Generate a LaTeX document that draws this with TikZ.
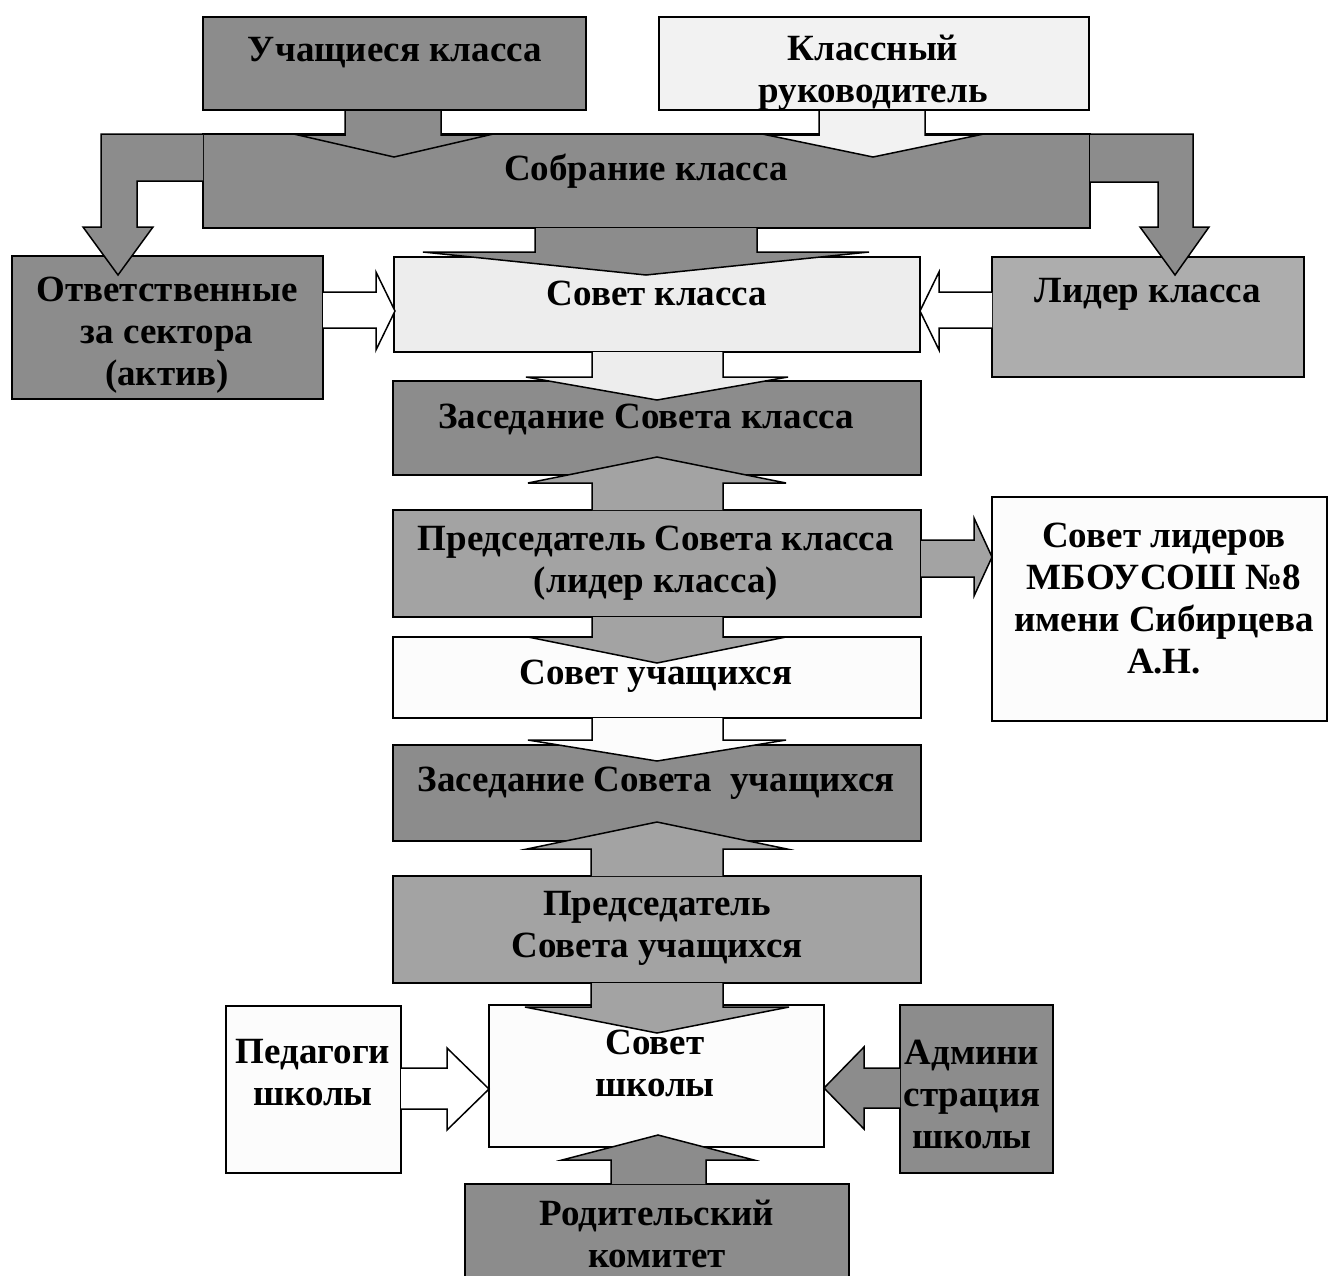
\documentclass[tikz,border=0pt]{standalone}
\usepackage{fontspec}
\setmainfont{Liberation Serif}
\definecolor{dk}{gray}{0.55}
\definecolor{md}{gray}{0.64}
\definecolor{ld}{gray}{0.68}
\definecolor{lt}{gray}{0.93}
\definecolor{lb}{gray}{0.95}
\definecolor{wh}{gray}{0.99}
\begin{document}
\begin{tikzpicture}[x=1pt,y=-1pt,
  box/.style={draw, line width=1.6pt, inner sep=0pt, outer sep=0pt},
  txt/.style={font=\fontsize{37}{42}\selectfont\bfseries, align=center, inner sep=0pt},
  barrow/.style={draw, line width=1.5pt, line join=miter}]
\useasboundingbox (0,0) rectangle (1329,1275);
% boxes
\node[box, fill=dk, minimum width=383pt, minimum height=93pt] (A) at (394.5,63.5) {};
\node[box, fill=lb, minimum width=430pt, minimum height=93pt] (B) at (874,63.5) {};
\node[box, fill=dk, minimum width=887pt, minimum height=94pt] (C) at (646.5,181) {};
\node[box, fill=lt, minimum width=526pt, minimum height=95pt] (D) at (657,304.5) {};
\node[box, fill=dk, minimum width=311pt, minimum height=143pt] (E) at (167.5,327.5) {};
\node[box, fill=ld, minimum width=312pt, minimum height=120pt] (F) at (1148,317) {};
\node[box, fill=dk, minimum width=528pt, minimum height=94pt] (G) at (657,428) {};
\node[box, fill=md, minimum width=528pt, minimum height=107pt] (H) at (657,563.5) {};
\node[box, fill=wh, minimum width=335pt, minimum height=224pt] (I) at (1159.5,609) {};
\node[box, fill=wh, minimum width=528pt, minimum height=81pt] (J) at (657,677.5) {};
\node[box, fill=dk, minimum width=528pt, minimum height=96pt] (K) at (657,793) {};
\node[box, fill=md, minimum width=528pt, minimum height=107pt] (L) at (657,929.5) {};
\node[box, fill=wh, minimum width=335pt, minimum height=142pt] (M) at (656.5,1076) {};
\node[box, fill=wh, minimum width=175pt, minimum height=167pt] (N) at (313.5,1089.5) {};
\node[box, fill=dk, minimum width=153pt, minimum height=168pt] (O) at (976.5,1089) {};
\node[box, fill=dk, minimum width=384pt, minimum height=106pt] (P) at (657,1237) {};
% block arrows
\draw[barrow, fill=dk] (345,110) -- (345,135) -- (298,135) -- (394,157) -- (489,135) -- (441,135) -- (441,110) -- cycle;
\draw[barrow, fill=lb] (819,110) -- (819,135) -- (767,135) -- (873,157) -- (979,135) -- (925,135) -- (925,110) -- cycle;
\draw[barrow, fill=dk] (203,134) -- (101,134) -- (101,227) -- (83,227) -- (118,275) -- (153,227) -- (137,227) -- (137,181) -- (203,181);
\draw[barrow, fill=dk] (1090,134) -- (1193,134) -- (1193,227) -- (1209,227) -- (1175,275) -- (1140,227) -- (1158,227) -- (1158,182) -- (1090,182);
\draw[barrow, fill=dk] (535,228) -- (535,252) -- (423,252) -- (646,275) -- (869,252) -- (757,252) -- (757,228);
\draw[barrow, fill=lt] (592,352) -- (592,377) -- (526,377) -- (657,400) -- (788,377) -- (723,377) -- (723,352);
\draw[barrow, fill=white] (323,292) -- (376,292) -- (376,272) -- (395,311) -- (376,350) -- (376,328) -- (323,328);
\draw[barrow, fill=white] (992,292) -- (939,292) -- (939,272) -- (920,311) -- (939,350) -- (939,328) -- (992,328);
\draw[barrow, fill=md] (592,510) -- (592,483) -- (528,483) -- (657,457) -- (786,483) -- (723,483) -- (723,510);
\draw[barrow, fill=md] (921,540) -- (974,540) -- (974,518) -- (992,557) -- (974,596) -- (974,577) -- (921,577);
\draw[barrow, fill=md] (592,617) -- (592,637) -- (528,637) -- (657,663) -- (786,637) -- (723,637) -- (723,617);
\draw[barrow, fill=wh] (592,718) -- (592,740) -- (528,740) -- (657,761) -- (786,740) -- (723,740) -- (723,718);
\draw[barrow, fill=md] (591,876) -- (591,849) -- (527,849) -- (657,822) -- (787,849) -- (723,849) -- (723,876);
\draw[barrow, fill=md] (591,983) -- (591,1007) -- (525,1007) -- (657,1033) -- (789,1007) -- (723,1007) -- (723,983);
\draw[barrow, fill=white] (401,1068) -- (447,1068) -- (447,1048) -- (489,1089) -- (447,1130) -- (447,1109) -- (401,1109);
\draw[barrow, fill=dk] (900,1068) -- (864,1068) -- (864,1047) -- (824,1088) -- (864,1129) -- (864,1108) -- (900,1108);
\draw[barrow, fill=dk] (611,1184) -- (611,1160) -- (562,1160) -- (658,1135) -- (754,1160) -- (706,1160) -- (706,1184);
% texts
\node[txt] (tA) at (395,53) {Учащиеся класса};
\node[txt] (tB) at (873,73) {Классный\\руководитель};
\node[txt] (tC) at (646,171) {Собрание класса};
\node[txt] (tD) at (657,293) {Совет класса};
\node[txt] (tE) at (167,335) {Ответственные\\за сектора\\(актив)};
\node[txt] (tF) at (1148,294) {Лидер класса};
\node[txt] (tG) at (646,419) {Заседание Совета класса};
\node[txt] (tH) at (656,563) {Председатель Совета класса\\(лидер класса)};
\node[txt] (tI) at (1164,598) {Совет лидеров\\МБОУСОШ №8\\имени Сибирцева\\А.Н.};
\node[txt] (tJ) at (656,676) {Совет учащихся};
\node[txt] (tK) at (656,783) {Заседание Совета\ \ учащихся};
\node[txt] (tL) at (657,928) {Председатель\\Совета учащихся};
\node[txt] (tM) at (655,1063) {Совет\\школы};
\node[txt] (tN) at (313,1073) {Педагоги\\школы};
\node[txt] (tO) at (972,1094) {Админи\\страция\\школы};
\node[txt] (tP) at (657,1234) {Родительский\\комитет};
\end{tikzpicture}
\end{document}
